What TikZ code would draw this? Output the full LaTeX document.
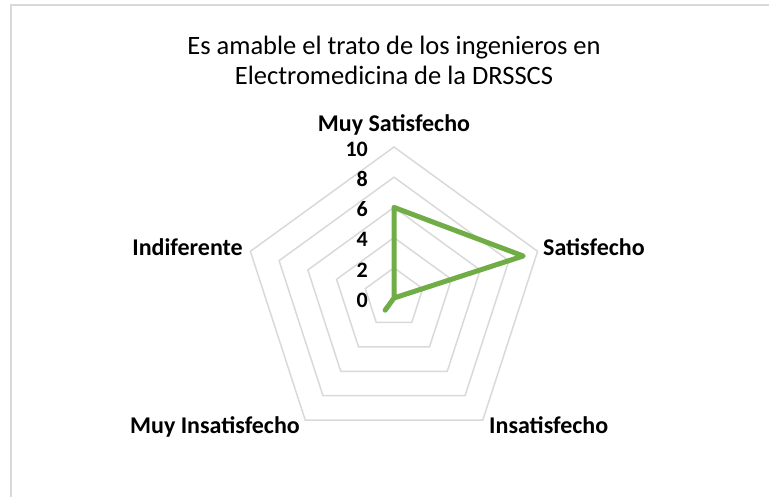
\documentclass[tikz,border=0pt]{standalone}
\usepackage{fontspec}
\setmainfont{Carlito}
\usetikzlibrary{positioning}
\definecolor{gridgray}{HTML}{D9D9D9}
\definecolor{seriesgreen}{HTML}{70AD47}

\begin{document}
\begin{tikzpicture}[x=1pt, y=1pt,
		ring/.style={gridgray, line width=1.5pt, line join=miter},
		catlabel/.style={font=\fontsize{24}{28}\selectfont\bfseries, inner sep=0pt},
		ticklabel/.style={font=\fontsize{22}{26}\selectfont\bfseries, anchor=east, inner sep=0pt}]
		\useasboundingbox (0,0) rectangle (769,497);

		% Chart frame (only top and left edges are visible)
		\draw[gridgray, line width=2pt] (11,0) |- (769,492);

		% Title
		\node[font=\fontsize{26.5}{30}\selectfont, align=center] (title) at (394,437)
			{Es amable el trato de los ingenieros en\\Electromedicina de la DRSSCS};

		\begin{scope}[shift={(394,199)}]
			\coordinate (O) at (0,0);

			% Draw pentagon rings for 2, 4, ..., 10
			\foreach \v in {2,4,...,10} {
					\pgfmathsetmacro{\r}{15.1*\v}
					\draw[ring] (90:\r) -- (162:\r) -- (234:\r) -- (306:\r) -- (18:\r) -- cycle;
				}

			% Axis values
			\foreach \v in {0,2,...,10} {
					\node[ticklabel] (tick\v) at (-26,15.1*\v-2) {\v};
				}

			% Category labels
			\node[catlabel, anchor=base] (muysat) at (0,166) {Muy Satisfecho};
			\node[catlabel, anchor=base west] (sat) at (149,42) {Satisfecho};
			\node[catlabel, anchor=base west] (insat) at (95,-136) {Insatisfecho};
			\node[catlabel, anchor=base east] (muyinsat) at (-94,-136) {Muy Insatisfecho};
			\node[catlabel, anchor=base east] (indif) at (-151,42) {Indiferente};

			% Data series: 6, 9, 0, 1, 0
			\coordinate (p1) at (90:6*15.1);
			\coordinate (p2) at (18:9*15.1);
			\coordinate (p3) at (O);
			\coordinate (p4) at (234:1*15.1);
			\coordinate (p5) at (O);
			\draw[seriesgreen, line width=5pt, line join=round, line cap=round]
			(p1) -- (p2) -- (p3) -- (p4) -- (p5) -- cycle;
		\end{scope}
	\end{tikzpicture}
\end{document}
